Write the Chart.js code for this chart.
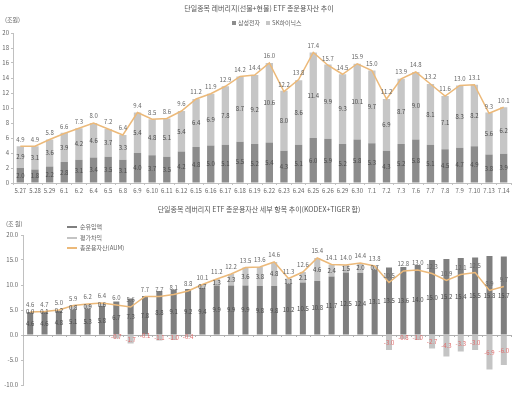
<!DOCTYPE html>
<html>
<head>
<meta charset="utf-8">
<script src="https://cdn.jsdelivr.net/npm/chart.js@4.4.0/dist/chart.umd.min.js"></script>
<style>
  body { margin: 0; background: #fff; width: 518px; height: 399px; position: relative; overflow: hidden;
         font-family: "Noto Sans CJK KR", "Noto Sans", sans-serif; color: #555; }
  .txt { position: absolute; white-space: nowrap; font-size: 6px; line-height: 1; }
  .title { left: 0; width: 518px; text-align: center; font-size: 7px; color: #555; }
  .sq { display: inline-block; width: 4px; height: 4px; margin: 0 2px 0 6px; vertical-align: 0px; }
  .ln { position: absolute; left: 67px; width: 10px; height: 2px; }
  #top { position: absolute; left: 0; top: 0; }
  #bottom { position: absolute; left: 0; top: 200px; }
</style>
</head>
<body>
<canvas id="top" width="518" height="200"></canvas>
<canvas id="bottom" width="518" height="199"></canvas>

<div class="txt title" style="top:5px">단일종목 레버리지(선물+현물) ETF 총운용자산 추이</div>
<div class="txt" style="left:226px;top:20px;color:#666"><span class="sq" style="background:#8c8c8c"></span>삼성전자<span class="sq" style="background:#c6c6c6"></span>SK하이닉스</div>
<div class="txt" style="left:5px;top:17px;color:#666">(조원)</div>

<div class="txt title" style="top:206px">단일종목 레버리지 ETF 총운용자산 세부 항목 추이(KODEX+TIGER 합)</div>
<div class="txt" style="left:6px;top:221px;color:#666">(조 원)</div>
<div class="ln" style="top:226px;background:#7f7f7f"></div>
<div class="txt" style="left:80px;top:224px;color:#666">순유입액</div>
<div class="ln" style="top:237px;background:#c4c4c4"></div>
<div class="txt" style="left:80px;top:235px;color:#666">평가차익</div>
<div class="ln" style="top:247px;background:#ecb979"></div>
<div class="txt" style="left:80px;top:245px;color:#666">총운용자산(AUM)</div>

<script>
  // data
  const dates = ['5.27', '5.28', '5.29', '6.1', '6.2', '6.4', '6.5', '6.8', '6.9', '6.10', '6.11', '6.12',
    '6.15', '6.16', '6.17', '6.18', '6.19', '6.22', '6.23', '6.24', '6.25', '6.26', '6.29', '6.30',
    '7.1', '7.2', '7.3', '7.6', '7.7', '7.8', '7.9', '7.10', '7.13', '7.14']

  // top chart (조원)
  const samsung = [2.0, 1.8, 2.2, 2.8, 3.1, 3.4, 3.5, 3.1, 4.0, 3.7, 3.5, 4.2,
    4.8, 5.0, 5.1, 5.5, 5.2, 5.4, 4.3, 5.1, 6.0, 5.9, 5.2, 5.8,
    5.3, 4.3, 5.2, 5.8, 5.1, 4.5, 4.7, 4.9, 3.8, 3.9]
  const hynix = [2.9, 3.1, 3.6, 3.9, 4.2, 4.6, 3.7, 3.3, 5.4, 4.8, 5.1, 5.4,
    6.4, 6.9, 7.8, 8.7, 9.2, 10.6, 8.0, 8.6, 11.4, 9.9, 9.3, 10.1,
    9.7, 6.9, 8.7, 9.0, 8.1, 7.1, 8.3, 8.2, 5.6, 6.2]
  const totalAll = [4.9, 4.9, 5.8, 6.6, 7.3, 8.0, 7.2, 6.4, 9.4, 8.5, 8.6, 9.6,
    11.2, 11.9, 12.9, 14.2, 14.4, 16.0, 12.2, 13.8, 17.4, 15.7, 14.5, 15.9,
    15.0, 11.2, 13.9, 14.8, 13.2, 11.6, 13.0, 13.1, 9.3, 10.1]

  // bottom chart (조 원)
  const netInflow = [4.6, 4.6, 4.8, 5.1, 5.3, 5.8, 6.7, 7.3, 7.8, 8.8, 9.1, 9.2,
    9.4, 9.9, 9.9, 9.9, 9.8, 9.8, 10.2, 10.5, 10.8, 11.7, 12.5, 12.4,
    13.1, 13.5, 13.6, 14.0, 15.0, 15.2, 15.4, 15.5, 15.8, 15.7]
  const valuation = [0.0, 0.1, 0.2, 0.8, 0.9, 0.6, -0.7, -1.7, -0.1, -1.1, -1.0, -0.4,
    0.7, 1.3, 2.3, 3.6, 3.8, 4.8, 1.1, 2.1, 4.6, 2.4, 1.5, 2.0,
    0.7, -3.0, -0.8, -1.0, -2.7, -4.3, -3.3, -3.0, -6.9, -6.0]
  const aum = [4.6, 4.7, 5.0, 5.9, 6.2, 6.4, 6.0, 5.6, 7.7, 7.7, 8.1, 8.8,
    10.1, 11.2, 12.2, 13.5, 13.6, 14.6, 11.3, 12.6, 15.4, 14.1, 14.0, 14.4,
    13.8, 10.5, 12.8, 13.0, 12.3, 10.9, 12.1, 12.5, 8.9, 9.7]

  Chart.defaults.font.family = '"Noto Sans CJK KR", "Noto Sans", sans-serif'
  Chart.defaults.color = '#666'

  const orange = '#ecb979'

  // value labels drawn from the library's own elements
  const valueLabels = {
    id: 'valueLabels',
    afterDatasetsDraw(chart) {
      const ctx = chart.ctx
      ctx.save()
      ctx.font = '6px "Noto Sans CJK KR", "Noto Sans", sans-serif'
      ctx.textAlign = 'center'
      ctx.textBaseline = 'middle'
      chart.data.datasets.forEach((ds, i) => {
        const meta = chart.getDatasetMeta(i)
        meta.data.forEach((el, j) => {
          const v = ds.data[j]
          if (v === null || v === undefined) return
          let y
          if (ds.type === 'line') y = el.y - 7
          else y = (el.y + el.base) / 2
          ctx.fillStyle = v < 0 ? '#e06a6a' : ds.type === 'line' ? '#666' : '#4a4a4a'
          ctx.fillText(v.toFixed(1), el.x, y)
        })
      })
      ctx.restore()
    },
  }

  // small tick marks on the zero line of the lower chart
  const zeroTicks = {
    id: 'zeroTicks',
    beforeDatasetsDraw(chart) {
      const { ctx, scales } = chart
      const y0 = scales.y.getPixelForValue(0)
      const step = scales.x.width / dates.length
      ctx.save()
      ctx.strokeStyle = '#b0b0b0'
      ctx.lineWidth = 1
      ctx.beginPath()
      for (let i = 0; i <= dates.length; i++) {
        const x = Math.round(scales.x.left + step * i) + 0.5
        ctx.moveTo(x, y0)
        ctx.lineTo(x, y0 + 2)
      }
      ctx.stroke()
      ctx.restore()
    },
  }

  const tickFont = { size: 6 }

  new Chart('top', {
    type: 'bar',
    data: {
      labels: dates,
      datasets: [
        { type: 'line', label: '합계', data: totalAll, borderColor: orange, borderWidth: 1.5,
          pointRadius: 0, tension: 0, order: 0, stack: 'total' },
        { label: '삼성전자', data: samsung, backgroundColor: '#8c8c8c', order: 1, stack: 'bars',
          barPercentage: 0.5, categoryPercentage: 1 },
        { label: 'SK하이닉스', data: hynix, backgroundColor: '#c6c6c6', order: 1, stack: 'bars',
          barPercentage: 0.5, categoryPercentage: 1 },
      ],
    },
    options: {
      responsive: false,
      animation: false,
      layout: { padding: { top: 33, right: 7, bottom: 5, left: 0 } },
      plugins: { legend: { display: false }, tooltip: { enabled: false } },
      scales: {
        x: {
          stacked: true,
          grid: { drawOnChartArea: false, tickLength: 2, color: '#c0c0c0' },
          border: { color: '#c0c0c0' },
          ticks: { font: tickFont, padding: 2, maxRotation: 0, autoSkip: false },
          afterFit: (s) => { s.height = 12 },
        },
        y: {
          stacked: true,
          min: 0,
          max: 20,
          ticks: { stepSize: 2, font: tickFont, padding: 2 },
          grid: { drawOnChartArea: false, tickLength: 2, color: '#c0c0c0' },
          border: { color: '#c0c0c0' },
          afterFit: (s) => { s.width = 13 },
        },
      },
    },
    plugins: [valueLabels],
  })

  new Chart('bottom', {
    type: 'bar',
    data: {
      labels: dates,
      datasets: [
        { type: 'line', label: '총운용자산(AUM)', data: aum, borderColor: orange, borderWidth: 1.5,
          pointRadius: 0, tension: 0, order: 0, stack: 'aum' },
        { label: '순유입액', data: netInflow, backgroundColor: '#7f7f7f', order: 1, stack: 'bars',
          barPercentage: 0.42, categoryPercentage: 1 },
        { label: '평가차익', data: valuation, backgroundColor: '#c4c4c4', order: 1, stack: 'bars',
          barPercentage: 0.42, categoryPercentage: 1 },
      ],
    },
    options: {
      responsive: false,
      animation: false,
      layout: { padding: { top: 35, right: 7, bottom: 4, left: 0 } },
      plugins: { legend: { display: false }, tooltip: { enabled: false } },
      scales: {
        x: {
          stacked: true,
          grid: { display: false },
          border: { display: false },
          ticks: { font: tickFont, padding: 3, maxRotation: 0, autoSkip: false },
          afterFit: (s) => { s.height = 10 },
        },
        y: {
          stacked: true,
          min: -10,
          max: 20,
          ticks: { stepSize: 5, font: tickFont, padding: 3, callback: (v) => v.toFixed(1) },
          grid: {
            color: (c) => (c.tick && c.tick.value === 0 ? '#b0b0b0' : 'rgba(0,0,0,0)'),
            tickColor: '#c0c0c0',
            tickLength: 2,
          },
          border: { color: '#c0c0c0' },
          afterFit: (s) => { s.width = 23 },
        },
      },
    },
    plugins: [zeroTicks, valueLabels],
  })
</script>
</body>
</html>
